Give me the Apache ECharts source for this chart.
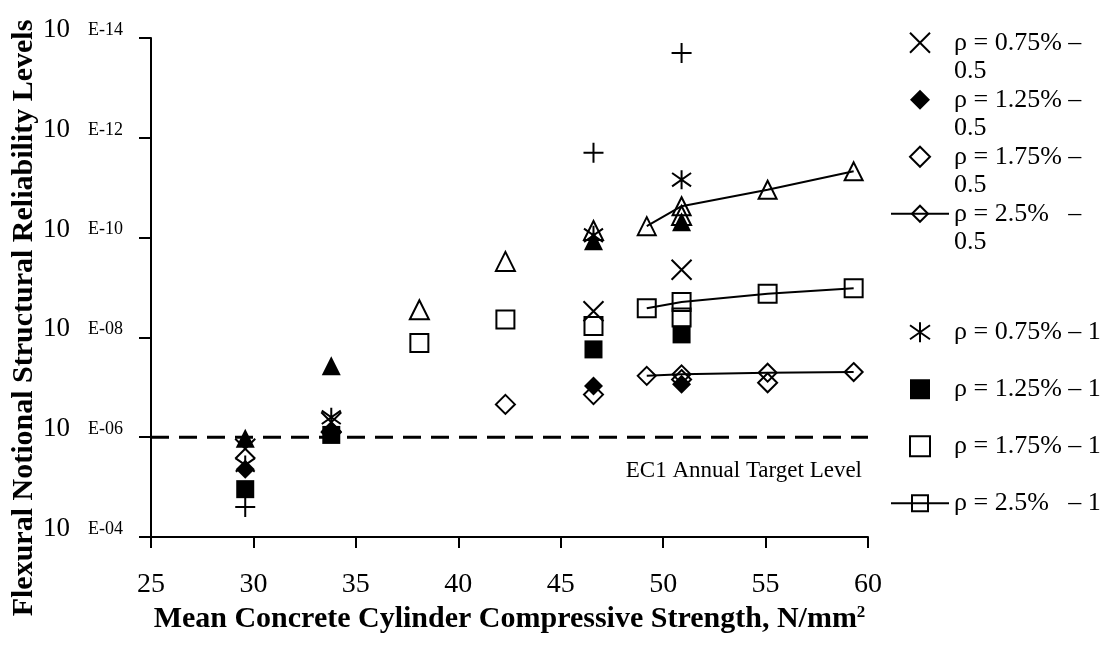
<!DOCTYPE html>
<html>
<head>
<meta charset="utf-8">
<script src="https://cdn.jsdelivr.net/npm/echarts@6/dist/echarts.min.js"></script>
<style>
html, body { margin: 0; padding: 0; background: #fff; }
#chart { width: 1114px; height: 646px; }
</style>
</head>
<body>
<div id="chart"></div>
<script>
// [mean cylinder strength N/mm2, notional failure level]
const rho075_05 = [[29.6, 1.7e-6], [33.8, 5e-7], [46.6, 3e-9], [50.9, 4.4e-10]];
const rho125_05 = [[29.6, 4.4e-6], [33.8, 8e-7], [46.6, 9.4e-8], [50.9, 8.7e-8]];
const rho175_05 = [[33.8, 8e-7], [42.3, 2.2e-7], [46.6, 1.4e-7], [50.9, 7e-8], [55.1, 8.1e-8]];
const rho250_05 = [[49.2, 5.9e-8], [50.9, 5.5e-8], [55.1, 5.1e-8], [59.3, 4.95e-8]];
const rho075_1 = [[29.6, 3.6e-6], [33.8, 4e-7], [46.6, 9e-11], [50.9, 6.9e-12]];
const rho125_1 = [[29.6, 1.1e-5], [33.8, 9e-7], [46.6, 1.74e-8], [50.9, 8.7e-9]];
const rho175_1 = [[38.1, 1.3e-8], [42.3, 4.4e-9], [46.6, 5.9e-9], [50.9, 4e-9]];
const rho250_1 = [[49.2, 2.6e-9], [50.9, 1.96e-9], [55.1, 1.34e-9], [59.3, 1.03e-9]];
const rho075_2 = [[29.6, 2.5e-5], [46.6, 2e-12], [50.9, 2e-14]];
const rho125_2 = [[29.6, 1.05e-6], [33.8, 3.7e-8], [46.6, 1.15e-10], [50.9, 4.8e-11]];
const rho175_2 = [[38.1, 2.8e-9], [42.3, 3e-10], [46.6, 7.2e-11], [50.9, 3.6e-11]];
const rho250_2 = [[49.2, 5.9e-11], [50.9, 2.35e-11], [55.1, 1.1e-11], [59.3, 4.7e-12]];

// EC1 annual target, drawn across the whole strength range
const xRange = [25, 60];
const targetLevel = 1e-6;

const legendTop = ['ρ = 0.75% –', 'ρ = 1.25% –', 'ρ = 1.75% –', 'ρ = 2.5%   –'];
const legendBottom = ['ρ = 0.75% – 1', 'ρ = 1.25% – 1', 'ρ = 1.75% – 1', 'ρ = 2.5%   – 1'];

const FONT = 'Liberation Serif';
const CROSS = 'path://M0,0L10,10M10,0L0,10';
const PLUS = 'path://M5,0L5,10M0,5L10,5';
const STAR = 'path://M0,1.5L10,8.5M10,1.5L0,8.5M5,0L5,10';
const DIAMOND = 'path://M5,0L10,5L5,10L0,5Z';
const SQUARE = 'path://M0,0L10,0L10,10L0,10Z';

const hollow = { color: 'transparent', borderColor: '#000', borderWidth: 2, opacity: 1 };
const solid = { color: '#000', opacity: 1 };

function pts(name, data, symbol, size, filled) {
  return {
    name: name,
    type: 'scatter',
    data: data,
    symbol: symbol,
    symbolSize: size,
    itemStyle: filled ? solid : hollow
  };
}

function trend(name, data, symbol) {
  return {
    name: name,
    type: 'line',
    data: data,
    symbol: symbol,
    symbolSize: 18,
    showSymbol: true,
    lineStyle: { color: '#000', width: 2 },
    itemStyle: hollow
  };
}

const chart = echarts.init(document.getElementById('chart'));

const series = [
  {
    name: 'EC1 target',
    type: 'line',
    data: xRange.map(x => [x, targetLevel]),
    symbol: 'none',
    silent: true,
    lineStyle: { color: '#000', width: 3, type: [18, 10] },
    endLabel: {
      show: true,
      formatter: 'EC1 Annual Target Level',
      color: '#000',
      fontFamily: FONT,
      fontSize: 23,
      align: 'right',
      distance: 0,
      offset: [-6, 34]
    }
  },
  pts('0.75-2', rho075_2, PLUS, 20, false),
  pts(legendBottom[1], rho125_1, SQUARE, 18, true),
  pts(legendTop[1], rho125_05, DIAMOND, 19, true),
  pts(legendTop[2], rho175_05, DIAMOND, 19, false),
  pts(legendBottom[2], rho175_1, SQUARE, 18, false),
  trend(legendTop[3], rho250_05, 'diamond'),
  trend(legendBottom[3], rho250_1, 'rect'),
  trend('2.5-2', rho250_2, 'triangle'),
  pts('1.75-2', rho175_2, 'triangle', 19, false),
  pts(legendTop[0], rho075_05, CROSS, 20, false),
  pts(legendBottom[0], rho075_1, STAR, 19, false),
  pts('1.25-2', rho125_2, 'triangle', 19, true)
];

const legendText = {
  color: '#000',
  fontFamily: FONT,
  fontSize: 26,
  lineHeight: 28.5
};

chart.setOption({
  animation: false,
  backgroundColor: '#fff',
  grid: { left: 151, right: 246, top: 38, bottom: 109, containLabel: false },
  legend: [{
    data: legendTop,
    orient: 'vertical',
    left: 890,
    top: 0,
    padding: 0,
    itemWidth: 58,
    itemHeight: 20,
    itemGap: -28.5,
    formatter: name => ' \n' + name + '\n0.5',
    textStyle: legendText,
    selectedMode: false
  }, {
    data: legendBottom,
    orient: 'vertical',
    left: 890,
    top: 318,
    padding: 0,
    itemWidth: 58,
    itemHeight: 20,
    itemGap: 28.5,
    textStyle: legendText,
    selectedMode: false
  }],
  xAxis: {
    type: 'value',
    min: xRange[0],
    max: xRange[1],
    interval: 5,
    splitLine: { show: false },
    axisLine: { lineStyle: { color: '#000', width: 2 } },
    axisTick: { length: 11, lineStyle: { color: '#000', width: 2 } },
    axisLabel: { color: '#000', fontFamily: FONT, fontSize: 28, margin: 34 },
    name: '{t|Mean Concrete Cylinder Compressive Strength, N/mm}{s|2}',
    nameLocation: 'middle',
    nameGap: 60,
    nameTextStyle: {
      rich: {
        t: { fontFamily: FONT, fontWeight: 'bold', fontSize: 30, color: '#000' },
        s: { fontFamily: FONT, fontWeight: 'bold', fontSize: 17, color: '#000', verticalAlign: 'top' }
      }
    }
  },
  yAxis: {
    type: 'log',
    logBase: 100,
    min: 1e-14,
    max: 1e-4,
    inverse: true,
    splitLine: { show: false },
    axisLine: { lineStyle: { color: '#000', width: 2 } },
    axisTick: { length: 12, lineStyle: { color: '#000', width: 2 } },
    axisLabel: {
      margin: 28,
      padding: [0, 0, 16, 0],
      formatter: v => {
        const e = Math.round(Math.log10(v));
        return '{a|10}{b|E' + (e < 0 ? '-' : '+') + String(Math.abs(e)).padStart(2, '0') + '}';
      },
      rich: {
        a: { fontFamily: FONT, fontSize: 27, color: '#000', padding: [0, 18, 0, 0] },
        b: { fontFamily: FONT, fontSize: 18, color: '#000' }
      }
    }
  },
  graphic: [{
    type: 'text',
    x: 24,
    y: 318,
    rotation: Math.PI / 2,
    style: {
      text: 'Flexural Notional Structural Reliability Levels',
      fontFamily: FONT,
      fontWeight: 'bold',
      fontSize: 30,
      fill: '#000',
      align: 'center',
      verticalAlign: 'middle'
    }
  }],
  series: series
});
</script>
</body>
</html>
